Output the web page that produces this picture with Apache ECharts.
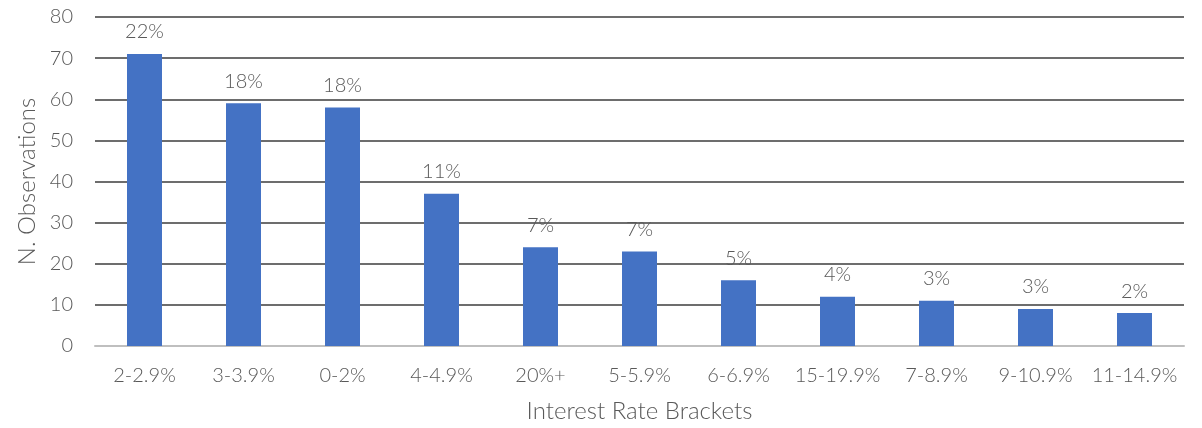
<!DOCTYPE html>
<html>
<head>
<meta charset="utf-8">
<script src="https://cdn.jsdelivr.net/npm/echarts@6/dist/echarts.min.js"></script>
<style>
  html, body { margin: 0; padding: 0; background: #fff; }
  #chart { width: 1202px; height: 428px; }
</style>
</head>
<body>
<div id="chart"></div>
<script>
const categories = ['2-2.9%', '3-3.9%', '0-2%', '4-4.9%', '20%+', '5-5.9%', '6-6.9%', '15-19.9%', '7-8.9%', '9-10.9%', '11-14.9%'];
const observations = [71, 59, 58, 37, 24, 23, 16, 12, 11, 9, 8];
const shareLabels = ['22%', '18%', '18%', '11%', '7%', '7%', '5%', '4%', '3%', '3%', '2%'];
const yTicks = { min: 0, max: 80, interval: 10 };

const FONT = 'Lato, "Open Sans", sans-serif';
const TXT = '#595959';
const chart = echarts.init(document.getElementById('chart'), null, { renderer: 'canvas' });
chart.setOption({
  animation: false,
  backgroundColor: '#ffffff',
  grid: { left: 95, right: 18, top: 17, bottom: 81, containLabel: false },
  xAxis: {
    type: 'category',
    data: categories,
    name: 'Interest Rate Brackets',
    nameLocation: 'middle',
    nameGap: 53,
    nameTextStyle: { fontFamily: FONT, fontSize: 24, fontWeight: 300, color: TXT },
    axisLine: { lineStyle: { color: '#bfbfbf', width: 2 } },
    axisTick: { show: false },
    axisLabel: { fontFamily: FONT, fontSize: 20, fontWeight: 300, color: TXT, margin: 20, interval: 0 }
  },
  yAxis: {
    type: 'value',
    min: yTicks.min,
    max: yTicks.max,
    interval: yTicks.interval,
    name: 'N. Observations',
    nameLocation: 'middle',
    nameGap: 56,
    nameTextStyle: { fontFamily: FONT, fontSize: 24, fontWeight: 300, color: TXT },
    axisLine: { show: false },
    axisTick: { show: false },
    axisLabel: { fontFamily: FONT, fontSize: 20, fontWeight: 300, color: TXT, margin: 22 },
    splitLine: { lineStyle: { color: '#3d3d3d', width: 1.5 } }
  },
  series: [{
    type: 'bar',
    data: observations,
    barWidth: 35,
    itemStyle: { color: '#4472C4' },
    label: {
      show: true,
      position: 'top',
      distance: 12,
      fontFamily: FONT,
      fontSize: 20,
      fontWeight: 300,
      color: TXT,
      formatter: p => shareLabels[p.dataIndex]
    }
  }]
});
</script>
</body>
</html>
